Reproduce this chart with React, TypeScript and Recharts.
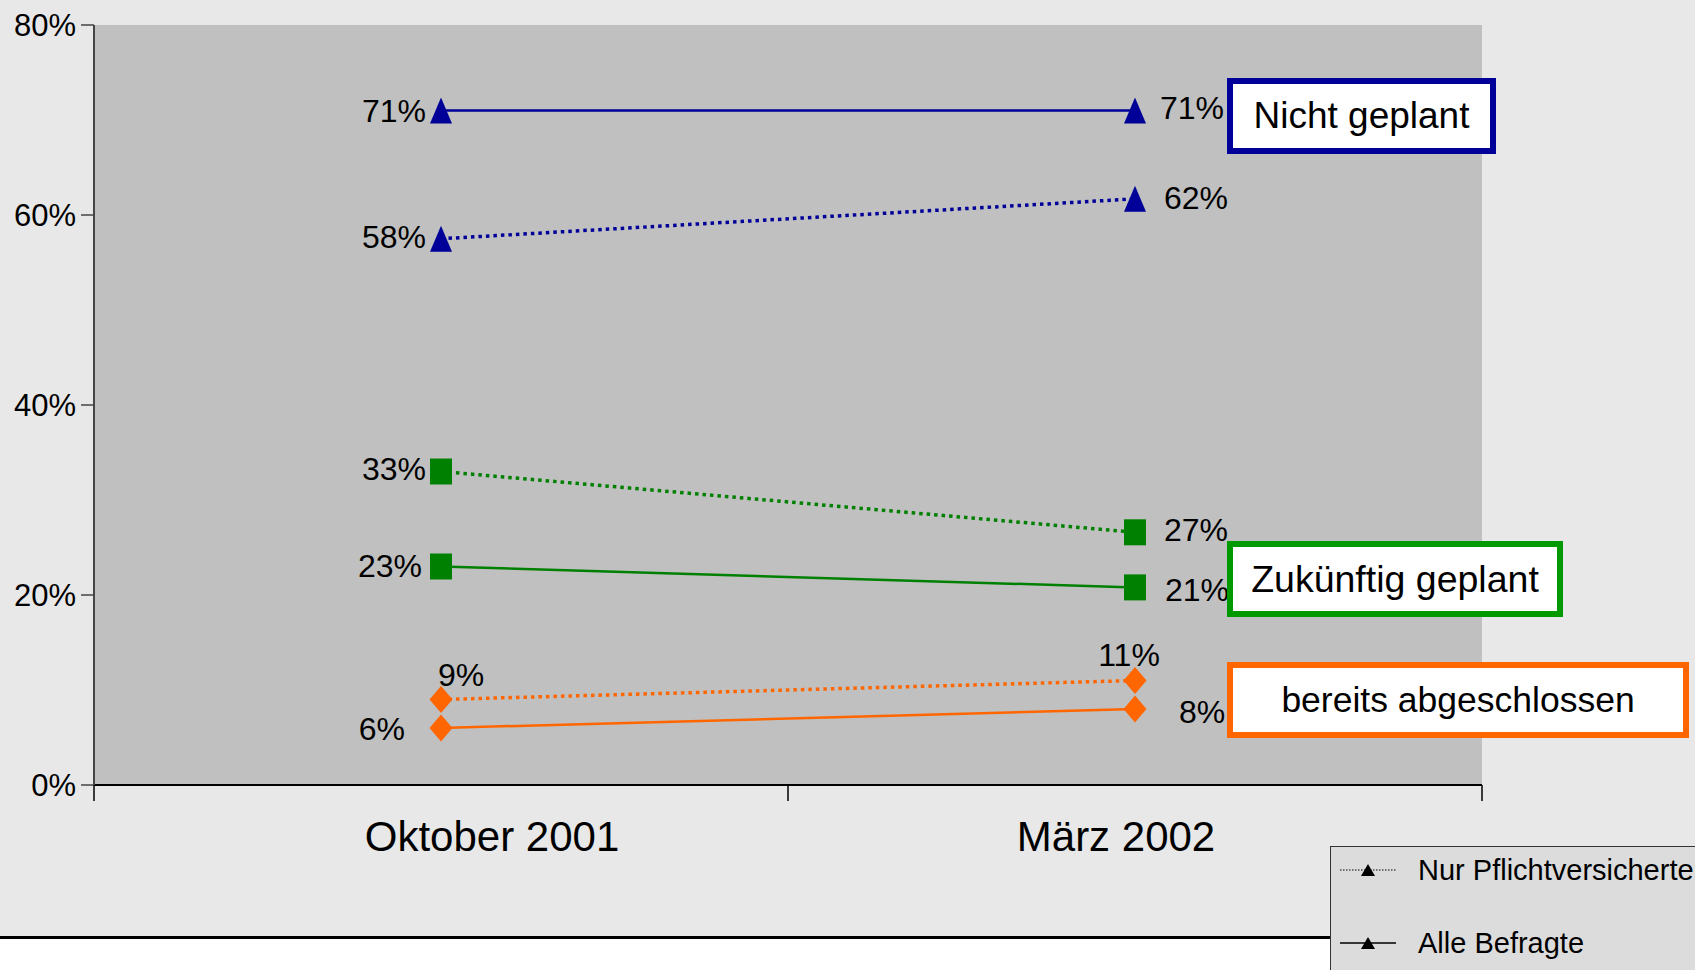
import React from 'react';
import { LineChart, Line, XAxis, YAxis, CartesianGrid } from 'recharts';

// ---------- data ----------
const periods = ['Oktober 2001', 'März 2002'];
const yTicks = [0, 20, 40, 60, 80];
const nichtAlle = [71, 71];
const nichtPflicht = [57.5, 61.7];
const zukPflicht = [33, 26.6];
const zukAlle = [23, 20.8];
const bereitsPflicht = [9, 11];
const bereitsAlle = [6, 8];
const categoryLabels = ['Nicht geplant', 'Zukünftig geplant', 'bereits abgeschlossen'];
const legendLabels = ['Nur Pflichtversicherte', 'Alle Befragte'];

const data = periods.map((p, i) => ({
  period: p,
  nichtAlle: nichtAlle[i],
  nichtPflicht: nichtPflicht[i],
  zukPflicht: zukPflicht[i],
  zukAlle: zukAlle[i],
  bereitsPflicht: bereitsPflicht[i],
  bereitsAlle: bereitsAlle[i],
}));

// ---------- style ----------
const FONT = '"Liberation Sans", Arial, Helvetica, sans-serif';
const NAVY = '#000099';
const GREEN = '#008000';
const ORANGE = '#ff6600';
const W = 1695;
const H = 970;
const MARGIN = { top: 25, right: 213, bottom: 85, left: 0 };
const Y_W = 94;
const X_H = 100;
const PLOT_W = W - MARGIN.right - Y_W;
const HALF_BAND = PLOT_W / periods.length / 2;
const periodLabelDx = [51, -19];

type Off = { dx: number; dy: number; anchor: 'start' | 'middle' | 'end' };

const makeDot = (shape: string, color: string, vals: number[], offs: Off[]) => (props: any) => {
  const { cx, cy, index } = props;
  if (cx == null || cy == null) return <g key={`e${index}`} />;
  const w = 11;
  const h = 13;
  let mark;
  if (shape === 'triangle') {
    mark = <polygon points={`${cx},${cy - h} ${cx + w},${cy + h} ${cx - w},${cy + h}`} fill={color} />;
  } else if (shape === 'square') {
    mark = <rect x={cx - w} y={cy - h} width={2 * w} height={2 * h} fill={color} />;
  } else {
    mark = (
      <polygon
        points={`${cx},${cy - h - 0.5} ${cx + w + 0.5},${cy} ${cx},${cy + h + 0.5} ${cx - w - 0.5},${cy}`}
        fill={color}
      />
    );
  }
  const o = offs[index];
  return (
    <g key={`d${index}`}>
      {mark}
      <text
        x={cx + o.dx}
        y={cy + o.dy}
        textAnchor={o.anchor}
        dominantBaseline="central"
        fontSize={32}
        fontFamily={FONT}
        fill="#000"
      >
        {Math.round(vals[index])}%
      </text>
    </g>
  );
};

const PeriodTick = (props: any) => {
  const { x, y, payload, index } = props;
  return (
    <g>
      <line x1={x - HALF_BAND} x2={x - HALF_BAND} y1={y} y2={y + 16} stroke="#000" strokeWidth={1.5} />
      {index === periods.length - 1 && (
        <line x1={x + HALF_BAND} x2={x + HALF_BAND} y1={y} y2={y + 16} stroke="#000" strokeWidth={1.5} />
      )}
      <text
        x={x + periodLabelDx[index]}
        y={y + 51}
        textAnchor="middle"
        dominantBaseline="central"
        fontSize={42}
        fontFamily={FONT}
        fill="#000"
      >
        {payload.value}
      </text>
    </g>
  );
};

const boxStyle = (left: number, top: number, width: number, color: string, fs: number): React.CSSProperties => ({
  position: 'absolute',
  left,
  top,
  width,
  height: 76,
  boxSizing: 'border-box',
  border: `6px solid ${color}`,
  background: '#fff',
  display: 'flex',
  alignItems: 'center',
  justifyContent: 'center',
  fontFamily: FONT,
  fontSize: fs,
  color: '#000',
  whiteSpace: 'nowrap',
});

const LegendSample = ({ dotted }: { dotted: boolean }) => (
  <svg width={56} height={16} style={{ position: 'absolute', left: 9, top: -8 }}>
    <line
      x1={0}
      x2={56}
      y1={8}
      y2={8}
      stroke="#000"
      strokeWidth={dotted ? 1 : 1.5}
      strokeDasharray={dotted ? '1.5 1.5' : undefined}
    />
    <polygon points="28,2 35,14 21,14" fill="#000" />
  </svg>
);

export default function App() {
  return (
    <div
      style={{
        position: 'absolute',
        left: 0,
        top: 0,
        width: W,
        height: H,
        overflow: 'hidden',
        background: '#fff',
        fontFamily: FONT,
      }}
    >
      <div style={{ position: 'absolute', left: 0, top: 0, width: W, height: 936, background: '#e8e8e8' }} />
      <div style={{ position: 'absolute', left: 0, top: 936, width: W, height: 3, background: '#000' }} />
      <div style={{ position: 'absolute', left: 0, top: 0 }}>
        <LineChart width={W} height={H} data={data} margin={MARGIN}>
          <CartesianGrid horizontal={false} vertical={false} fill="#c0c0c0" />
          <XAxis
            dataKey="period"
            scale="band"
            interval={0}
            height={X_H}
            tickLine={false}
            tickSize={0}
            tickMargin={0}
            axisLine={{ stroke: '#000', strokeWidth: 2 }}
            tick={<PeriodTick />}
          />
          <XAxis
            xAxisId="top"
            dataKey="period"
            scale="band"
            orientation="top"
            height={0}
            tick={false}
            tickLine={false}
            axisLine={{ stroke: '#808080', strokeWidth: 2 }}
          />
          <YAxis
            domain={[0, 80]}
            ticks={yTicks}
            interval={0}
            width={Y_W}
            tickSize={13}
            tickMargin={5}
            tickFormatter={(v: number) => `${v}%`}
            tick={{ fontSize: 31, fill: '#000', fontFamily: FONT }}
            axisLine={{ stroke: '#444', strokeWidth: 2 }}
            tickLine={{ stroke: '#444', strokeWidth: 1.5 }}
          />
          <YAxis
            yAxisId="right"
            orientation="right"
            domain={[0, 80]}
            width={0}
            tick={false}
            tickLine={false}
            axisLine={{ stroke: '#808080', strokeWidth: 2 }}
          />
          <Line
            dataKey="nichtAlle"
            stroke={NAVY}
            strokeWidth={2.5}
            isAnimationActive={false}
            dot={makeDot('triangle', NAVY, nichtAlle, [
              { dx: -15, dy: 0, anchor: 'end' },
              { dx: 25, dy: -3, anchor: 'start' },
            ])}
          />
          <Line
            dataKey="nichtPflicht"
            stroke={NAVY}
            strokeWidth={3.5}
            strokeDasharray="3.5 4"
            isAnimationActive={false}
            dot={makeDot('triangle', NAVY, nichtPflicht, [
              { dx: -15, dy: -2, anchor: 'end' },
              { dx: 29, dy: -1, anchor: 'start' },
            ])}
          />
          <Line
            dataKey="zukPflicht"
            stroke={GREEN}
            strokeWidth={3.5}
            strokeDasharray="3.5 4"
            isAnimationActive={false}
            dot={makeDot('square', GREEN, zukPflicht, [
              { dx: -15, dy: -3, anchor: 'end' },
              { dx: 29, dy: -2, anchor: 'start' },
            ])}
          />
          <Line
            dataKey="zukAlle"
            stroke={GREEN}
            strokeWidth={2.5}
            isAnimationActive={false}
            dot={makeDot('square', GREEN, zukAlle, [
              { dx: -19, dy: -1, anchor: 'end' },
              { dx: 30, dy: 3, anchor: 'start' },
            ])}
          />
          <Line
            dataKey="bereitsPflicht"
            stroke={ORANGE}
            strokeWidth={3.5}
            strokeDasharray="3.5 4"
            isAnimationActive={false}
            dot={makeDot('diamond', ORANGE, bereitsPflicht, [
              { dx: 20, dy: -25, anchor: 'middle' },
              { dx: -6, dy: -26, anchor: 'middle' },
            ])}
          />
          <Line
            dataKey="bereitsAlle"
            stroke={ORANGE}
            strokeWidth={2.5}
            isAnimationActive={false}
            dot={makeDot('diamond', ORANGE, bereitsAlle, [
              { dx: -36, dy: 1, anchor: 'end' },
              { dx: 44, dy: 3, anchor: 'start' },
            ])}
          />
        </LineChart>
      </div>
      <div style={boxStyle(1227, 78, 269, NAVY, 37)}>{categoryLabels[0]}</div>
      <div style={boxStyle(1227, 541, 336, '#009900', 37.5)}>{categoryLabels[1]}</div>
      <div style={boxStyle(1227, 662, 462, ORANGE, 35.5)}>{categoryLabels[2]}</div>
      <div
        style={{
          position: 'absolute',
          left: 1330,
          top: 846,
          width: 420,
          height: 200,
          boxSizing: 'border-box',
          border: '1.5px solid #333',
          background: '#dcdcdc',
        }}
      >
        {legendLabels.map((lab, i) => (
          <div key={lab} style={{ position: 'absolute', left: 0, top: i === 0 ? 23 : 96, width: 400, height: 0 }}>
            <LegendSample dotted={i === 0} />
            <div
              style={{
                position: 'absolute',
                left: 87,
                top: -17,
                fontSize: 29,
                lineHeight: '34px',
                fontFamily: FONT,
                color: '#000',
                whiteSpace: 'nowrap',
              }}
            >
              {lab}
            </div>
          </div>
        ))}
      </div>
    </div>
  );
}
